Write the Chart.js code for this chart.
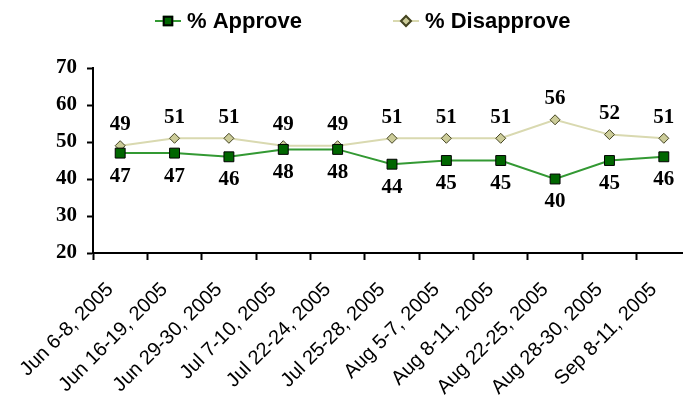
<!DOCTYPE html>
<html>
<head>
<meta charset="utf-8">
<script src="https://cdn.jsdelivr.net/npm/chart.js@4/dist/chart.umd.min.js"></script>
<style>
    html, body { margin: 0; padding: 0; background: #fff; overflow: hidden; }
    #wrap { position: relative; width: 700px; height: 407px; }
</style>
</head>
<body>
<div id="wrap"><canvas id="chart"></canvas></div>
<script>
// ── Data ──
const categories = [
    'Jun 6-8, 2005', 'Jun 16-19, 2005', 'Jun 29-30, 2005', 'Jul 7-10, 2005',
    'Jul 22-24, 2005', 'Jul 25-28, 2005', 'Aug 5-7, 2005', 'Aug 8-11, 2005',
    'Aug 22-25, 2005', 'Aug 28-30, 2005', 'Sep 8-11, 2005'
];
const approve    = [47, 47, 46, 48, 48, 44, 45, 45, 40, 45, 46];
const disapprove = [49, 51, 51, 49, 49, 51, 51, 51, 56, 52, 51];
const yTicks     = [20, 30, 40, 50, 60, 70];

const SANS  = "'Liberation Sans', Arial, sans-serif";
const SERIF = "'Liberation Serif', 'Times New Roman', serif";

// ── Plugin: value labels (approve below, disapprove above) ──
const valueLabels = {
    id: 'valueLabels',
    afterDatasetsDraw(chart) {
        const ctx = chart.ctx;
        ctx.save();
        ctx.font = `bold 21px ${SERIF}`;
        ctx.fillStyle = '#000';
        ctx.textAlign = 'center';
        ctx.textBaseline = 'middle';
        chart.data.datasets.forEach((ds, i) => {
            const meta = chart.getDatasetMeta(i);
            const dy = ds.labelBelow ? 23 : -21;
            meta.data.forEach((pt, j) => {
                ctx.fillText(String(ds.data[j]), pt.x, pt.y + dy);
            });
        });
        ctx.restore();
    }
};

// ── Plugin: legend drawn as line + marker, like the original ──
const lineLegend = {
    id: 'lineLegend',
    afterDraw(chart) {
        const ctx = chart.ctx;
        const y = 21;
        const starts = [155, 393];
        ctx.save();
        ctx.font = `bold 22px ${SANS}`;
        ctx.textBaseline = 'middle';
        chart.data.datasets.forEach((ds, i) => {
            const x = starts[i];
            ctx.strokeStyle = ds.borderColor;
            ctx.lineWidth = 2;
            ctx.beginPath();
            ctx.moveTo(x, y);
            ctx.lineTo(x + 26, y);
            ctx.stroke();
            Chart.helpers.drawPoint(ctx, {
                pointStyle: ds.pointStyle,
                radius: ds.pointStyle === 'rect' ? 6 : 5,
                rotation: 0,
                borderWidth: 1
            }, x + 13, y);
            ctx.fillStyle = ds.pointBackgroundColor;
            ctx.strokeStyle = ds.pointBorderColor;
            ctx.fill();
            ctx.stroke();
            ctx.fillStyle = '#000';
            ctx.fillText(ds.label, x + 32, y + 1);
        });
        ctx.restore();
    }
};

new Chart(document.getElementById('chart'), {
    type: 'line',
    data: {
        labels: categories,
        datasets: [
            {
                label: '% Approve',
                data: approve,
                borderColor: '#339933',
                borderWidth: 2,
                pointStyle: 'rect',
                pointRadius: 7,
                pointBackgroundColor: '#006600',
                pointBorderColor: '#000',
                pointBorderWidth: 1,
                labelBelow: true,
                tension: 0
            },
            {
                label: '% Disapprove',
                data: disapprove,
                borderColor: '#d9d9b0',
                borderWidth: 2,
                pointStyle: 'rectRot',
                pointRadius: 5,
                pointBackgroundColor: '#cccc99',
                pointBorderColor: '#444422',
                pointBorderWidth: 1,
                labelBelow: false,
                tension: 0
            }
        ]
    },
    options: {
        responsive: true,
        maintainAspectRatio: false,
        animation: false,
        layout: { padding: { top: 68, right: 9, left: 0, bottom: 0 } },
        plugins: {
            legend: { display: false },
            tooltip: { enabled: false }
        },
        scales: {
            x: {
                offset: true,
                grid: {
                    offset: true,
                    drawOnChartArea: false,
                    drawTicks: true,
                    tickLength: 7,
                    tickWidth: 2,
                    tickColor: '#000'
                },
                border: { display: true, color: '#000', width: 2 },
                ticks: {
                    color: '#000',
                    font: { family: SANS, size: 20 },
                    minRotation: 45,
                    maxRotation: 45,
                    autoSkip: false,
                    padding: 18,
                    labelOffset: -10
                },
                afterFit: (s) => { s.height = 154; }
            },
            y: {
                min: yTicks[0],
                max: yTicks[yTicks.length - 1],
                afterBuildTicks: (s) => { s.ticks = yTicks.map(v => ({ value: v })); },
                grid: {
                    drawOnChartArea: false,
                    drawTicks: true,
                    tickLength: 6,
                    tickWidth: 2,
                    tickColor: '#000'
                },
                border: { display: true, color: '#000', width: 2 },
                ticks: {
                    color: '#000',
                    font: { family: SERIF, size: 21, weight: 'bold' },
                    padding: 10
                },
                afterFit: (s) => { s.width = 93; }
            }
        }
    },
    plugins: [valueLabels, lineLegend]
});
</script>
</body>
</html>
